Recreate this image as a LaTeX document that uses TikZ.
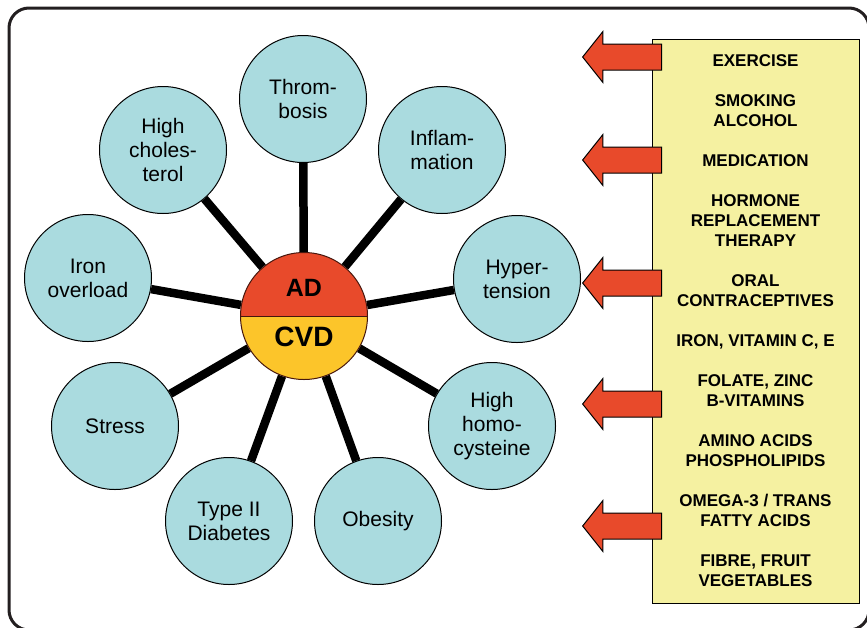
\documentclass[tikz,border=0pt]{standalone}
\usepackage{fontspec}
\setmainfont{Liberation Sans}
\usepackage{tikz}
\usetikzlibrary{shapes,arrows,backgrounds}
\definecolor{factorblue}{HTML}{AADBDF}
\definecolor{adred}{HTML}{E84A2B}
\definecolor{cvdyellow}{HTML}{FCC52A}
\definecolor{boxyellow}{HTML}{F5F1A1}
\definecolor{framegray}{HTML}{231F20}
\tikzstyle{factor} = [circle, minimum size=127pt, inner sep=0pt, draw=black, line width=1pt, fill=factorblue, align=center, font=\fontsize{21}{24}\selectfont]
\tikzstyle{hub} = [circle, minimum size=127pt, inner sep=0pt, draw=black!70!adred, line width=1pt, path picture={
	\fill[adred] (path picture bounding box.west) rectangle (path picture bounding box.north east);
	\fill[cvdyellow] (path picture bounding box.west) rectangle (path picture bounding box.south east);
	\draw[line width=1pt] (path picture bounding box.west) -- (path picture bounding box.east);}]
\tikzstyle{spoke} = [line width=8.5pt, black]
\tikzstyle{measures} = [rectangle, minimum width=207pt, minimum height=564pt, draw=black, line width=1pt, fill=boxyellow, align=center, font=\bfseries\fontsize{17}{20}\selectfont]
\tikzstyle{redarrow} = [single arrow, shape border rotate=180, single arrow tip angle=103, single arrow head extend=12.5pt, inner xsep=0pt, inner ysep=12.5pt, minimum height=79pt, draw=black, line width=1pt, fill=adred, anchor=tip]

\begin{document}
\begin{tikzpicture}[x=1pt, y=-1pt]
	\useasboundingbox (0,0) rectangle (867,627);
	\clip (0,0) rectangle (867,627);
	\draw[framegray, line width=3pt, rounded corners=20pt] (9,8) rectangle (869,630);
	% hub and risk factors
	\node (hub) [hub] at (304,316) {};
	\node (ad) [font=\bfseries\fontsize{25}{28}\selectfont] at (304,288) {AD};
	\node (cvd) [font=\bfseries\fontsize{28}{32}\selectfont] at (304,337) {CVD};
	\node (thromb) [factor] at (303,99) {Throm-\\bosis};
	\node (inflam) [factor] at (442,150) {Inflam-\\mation};
	\node (hyper) [factor] at (517,279) {Hyper-\\tension};
	\node (homocys) [factor] at (492,426) {High\\homo-\\cysteine};
	\node (obesity) [factor] at (378,521) {Obesity};
	\node (diabetes) [factor] at (229,521) {Type II\\Diabetes};
	\node (stress) [factor] at (115,426) {Stress};
	\node (iron) [factor] at (88,278) {Iron\\overload};
	\node (cholest) [factor] at (163,150) {High\\choles-\\terol};
	\begin{scope}[on background layer]
		\foreach \f in {thromb,inflam,hyper,homocys,obesity,diabetes,stress,iron,cholest}
			\draw [spoke] (hub) -- (\f);
	\end{scope}
	% lifestyle and diet
	\node (lifestyle) [measures] at (755.5,321) {EXERCISE\\[20pt]
		SMOKING\\ALCOHOL\\[20pt]
		MEDICATION\\[20pt]
		HORMONE\\REPLACEMENT\\THERAPY\\[20pt]
		ORAL\\CONTRACEPTIVES\\[20pt]
		IRON, VITAMIN C, E\\[20pt]
		FOLATE, ZINC\\B-VITAMINS\\[20pt]
		AMINO ACIDS\\PHOSPHOLIPIDS\\[20pt]
		OMEGA-3 / TRANS\\FATTY ACIDS\\[20pt]
		FIBRE, FRUIT\\VEGETABLES};
	\node (arr1) [redarrow] at (582,57) {};
	\node (arr2) [redarrow] at (582,160) {};
	\node (arr3) [redarrow] at (582,283) {};
	\node (arr4) [redarrow] at (582,404) {};
	\node (arr5) [redarrow] at (582,526) {};
\end{tikzpicture}
\end{document}
